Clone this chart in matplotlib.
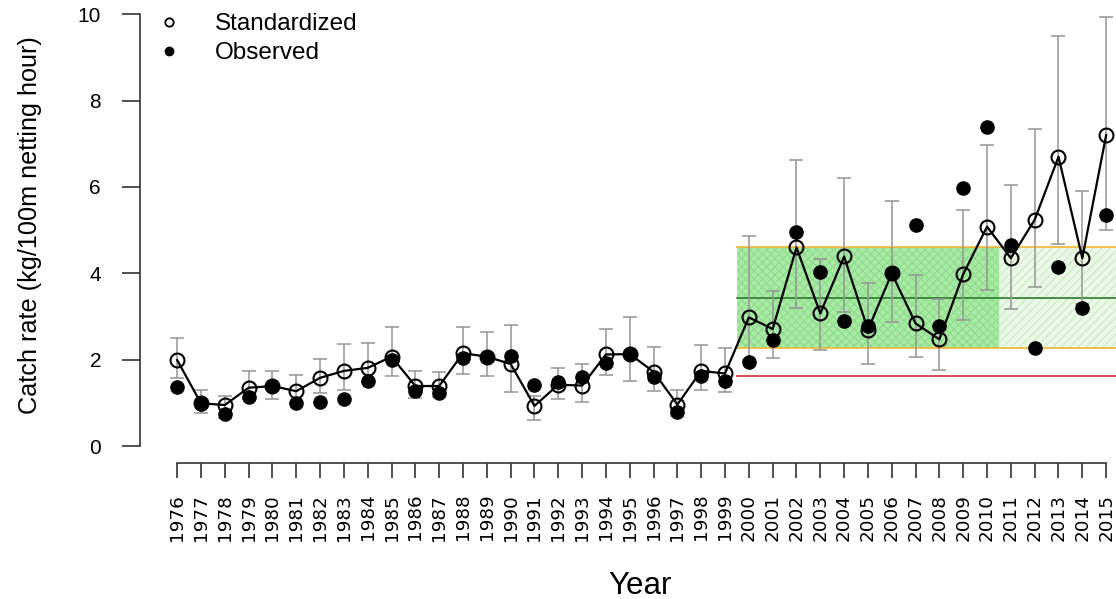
import matplotlib
matplotlib.use('agg')
import matplotlib.pyplot as plt
from matplotlib.lines import Line2D

plt.rcParams['font.family'] = ['Liberation Sans', 'DejaVu Sans']

years = list(range(1976, 2016))

standardized = [1.99, 0.99, 0.95, 1.35, 1.39, 1.27, 1.58, 1.74, 1.81, 2.07,
                1.39, 1.39, 2.15, 2.07, 1.90, 0.93, 1.42, 1.40, 2.12, 2.13,
                1.72, 0.96, 1.74, 1.68, 2.98, 2.71, 4.60, 3.07, 4.39, 2.69,
                4.00, 2.84, 2.47, 3.98, 5.08, 4.35, 5.24, 6.70, 4.35, 7.20]

observed = [1.37, 0.97, 0.74, 1.14, 1.39, 1.00, 1.03, 1.10, 1.51, 1.99,
            1.27, 1.22, 2.03, 2.07, 2.08, 1.41, 1.49, 1.60, 1.93, 2.13,
            1.59, 0.79, 1.62, 1.51, 1.94, 2.46, 4.96, 4.04, 2.90, 2.78,
            4.01, 5.12, 2.78, 5.97, 7.40, 4.66, 2.26, 4.14, 3.20, 5.35]

ci_upper = [2.51, 1.30, 1.17, 1.74, 1.74, 1.65, 2.01, 2.36, 2.38, 2.75,
            1.74, 1.72, 2.75, 2.64, 2.80, 1.15, 1.80, 1.91, 2.72, 2.98,
            2.30, 1.29, 2.34, 2.26, 4.86, 3.60, 6.62, 4.33, 6.20, 3.77,
            5.68, 3.96, 3.40, 5.47, 6.97, 6.05, 7.34, 9.50, 5.91, 9.94]

ci_lower = [1.58, 0.76, 0.65, 1.10, 1.09, 1.00, 1.23, 1.30, 1.45, 1.62,
            1.11, 1.14, 1.67, 1.62, 1.25, 0.60, 1.10, 1.03, 1.65, 1.50,
            1.28, 0.70, 1.30, 1.26, 2.00, 2.03, 3.20, 2.22, 3.11, 1.90,
            2.88, 2.07, 1.76, 2.92, 3.61, 3.17, 3.69, 4.67, 3.30, 5.00]

# reference period band
ref_start = 1999.5
ref_split = 2010.5
ref_upper = 4.62
ref_lower = 2.26
ref_mean = 3.44
limit_line = 1.62

yticks = [0, 2, 4, 6, 8, 10]

fig = plt.figure(figsize=(11.16, 5.99), dpi=100)
W, H = 1116.0, 599.0
# axes box in pixels: left 140, right 1116, bottom 463.3, top -3
ax = fig.add_axes([140 / W, (H - 463.3) / H, (1116 - 140) / W, 466.3 / H])

x_lo = 1976 - 1.56
x_hi = x_lo + (1116 - 140) / 23.82
ax.set_xlim(x_lo, x_hi)
ax.set_ylim(-0.4, 10.4)

# green reference band
ax.fill_between([ref_start, x_hi], ref_lower, ref_upper, facecolor='#ecf9e8',
                edgecolor='#cdeec5', hatch='////', linewidth=0, zorder=1)
ax.fill_between([ref_start, ref_split], ref_lower, ref_upper, facecolor='#a9eaa6',
                edgecolor='#92de8f', hatch='xxxx', linewidth=0, zorder=1)
ax.plot([ref_start, x_hi], [ref_upper, ref_upper], color='#f2b632', lw=1.2, zorder=2)
ax.plot([ref_start, x_hi], [ref_lower, ref_lower], color='#f2b632', lw=1.2, zorder=2)
ax.plot([ref_start, x_hi], [ref_mean, ref_mean], color='#2f7a2f', lw=1.2, zorder=2)
ax.plot([ref_start, x_hi], [limit_line, limit_line], color='#d84040', lw=1.3, zorder=2)

# confidence intervals
yerr = [[s - lo for s, lo in zip(standardized, ci_lower)],
        [hi - s for s, hi in zip(standardized, ci_upper)]]
ax.errorbar(years, standardized, yerr=yerr, fmt='none', ecolor='#959595',
            elinewidth=1.1, capsize=5, capthick=1.1, zorder=3)

ax.plot(years, standardized, color='black', lw=1.6, zorder=4)
ax.plot(years, observed, 'o', color='black', markersize=9.5, zorder=5)
ax.plot(years, standardized, 'o', markerfacecolor='none', markeredgecolor='black',
        markeredgewidth=1.5, markersize=10, zorder=6)

# R-style detached axes
for s in ['top', 'right']:
    ax.spines[s].set_visible(False)
ax.spines['left'].set_bounds(0, 10)
ax.spines['bottom'].set_bounds(1976, 2015)
for s in ['left', 'bottom']:
    ax.spines[s].set_linewidth(1.2)
    ax.spines[s].set_color('#333333')

ax.set_yticks(yticks)
ax.set_yticklabels([str(v) for v in yticks])
ax.set_xticks(years)
ax.set_xticklabels([str(y) for y in years], rotation=90, family='DejaVu Sans')
ax.tick_params(axis='y', length=13, width=1.2, pad=15, labelsize=15, color='#333333')
ax.tick_params(axis='x', length=11, width=1.2, pad=11, labelsize=13.2, color='#333333')

fig.text(30 / W, 1 - 225 / H, 'Catch rate (kg/100m netting hour)', rotation=90,
         ha='center', va='center', fontsize=18.2)
fig.text(640 / W, 1 - 586 / H, 'Year', ha='center', va='center', fontsize=22.5)

handles = [Line2D([], [], marker='o', ls='none', markerfacecolor='none',
                  markeredgecolor='black', markeredgewidth=1.3, markersize=6),
           Line2D([], [], marker='o', ls='none', color='black', markersize=6)]
ax.legend(handles, ['Standardized', 'Observed'], loc='upper left',
          bbox_to_anchor=(157 / W, 1 - 13 / H), bbox_transform=fig.transFigure,
          frameon=False, fontsize=17.5, handlelength=1.0, handletextpad=1.4,
          labelspacing=0.3, borderpad=0, borderaxespad=0)

fig.savefig('out.png', dpi=100)
